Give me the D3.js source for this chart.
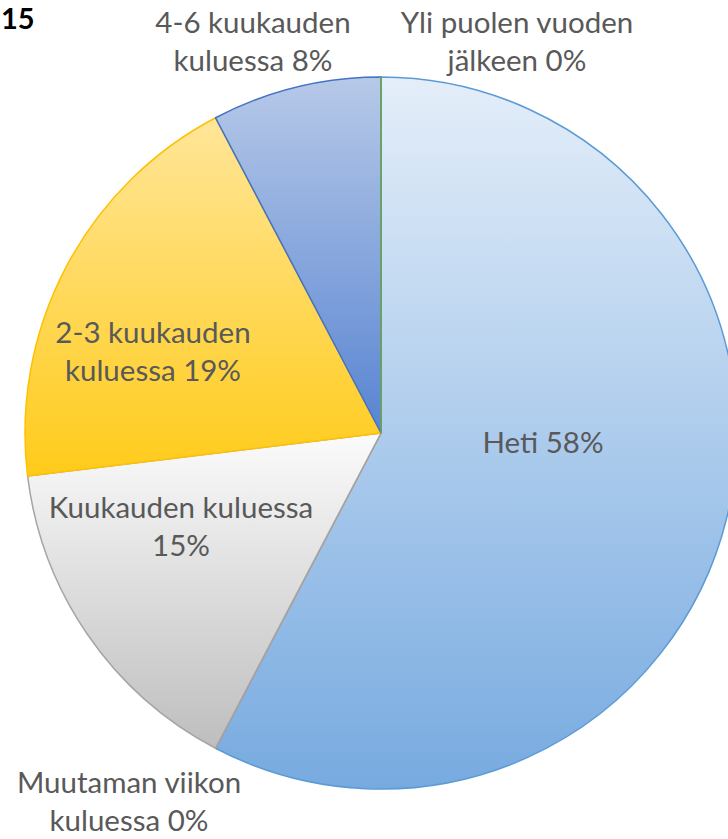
<!DOCTYPE html>
<html>
<head>
<meta charset="utf-8">
<script src="https://cdn.jsdelivr.net/npm/d3@7"></script>
<style>
  body { margin: 0; background: #fff; overflow: hidden; }
  svg { display: block; }
</style>
</head>
<body>
<svg></svg>
<script>
// Answer categories and counts (percent labels shown in the chart)
var categories = ["Heti", "Muutaman viikon kuluessa", "Kuukauden kuluessa",
                  "2-3 kuukauden kuluessa", "4-6 kuukauden kuluessa", "Yli puolen vuoden jälkeen"];
var counts = [15, 0, 4, 5, 2, 0];
var labelLines = [
  ["Heti 58%"],
  ["Muutaman viikon", "kuluessa 0%"],
  ["Kuukauden kuluessa", "15%"],
  ["2-3 kuukauden", "kuluessa 19%"],
  ["4-6 kuukauden", "kuluessa 8%"],
  ["Yli puolen vuoden", "jälkeen 0%"]
];

var width = 728, height = 839;
var cx = 381, cy = 433, radius = 356;

// slice colours: [top of gradient, bottom of gradient, border]
var colors = [
  ["#e4eef9", "#77aae0", "#5b9bd5"],
  ["#f8cbad", "#ed7d31", "#ed7d31"],
  ["#fbfbfb", "#bebebe", "#a5a5a5"],
  ["#ffe699", "#ffcb1a", "#ffc000"],
  ["#b7c9e8", "#5884d2", "#4472c4"],
  ["#a9d18e", "#70ad47", "#70ad47"]
];

// label anchor offsets from the pie centre (first baseline)
var labelOffsets = [
  [162, 20], [-252, 360], [-200, 85], [-228, -90], [-128, -400], [136, -400]
];

var svg = d3.select("svg")
  .attr("width", width)
  .attr("height", height);

var defs = svg.append("defs");
colors.forEach(function(c, i) {
  var g = defs.append("linearGradient")
    .attr("id", "grad" + i)
    .attr("x1", 0).attr("y1", 0).attr("x2", 0).attr("y2", 1);
  g.append("stop").attr("offset", "0%").attr("stop-color", c[0]);
  g.append("stop").attr("offset", "100%").attr("stop-color", c[1]);
});

var pie = d3.pie().sort(null).value(function(d) { return d; });
var arc = d3.arc().innerRadius(0).outerRadius(radius);
var arcs = pie(counts);

var g = svg.append("g").attr("transform", "translate(" + cx + "," + cy + ")");

g.selectAll("path.slice")
  .data(arcs)
  .enter()
  .append("path")
    .attr("class", "slice")
    .attr("d", function(d) {
      if (d.endAngle - d.startAngle === 0) {
        // zero slice: just the radial line
        var a = d.startAngle;
        return "M0,0L" + (radius * Math.sin(a)) + "," + (-radius * Math.cos(a));
      }
      return arc(d);
    })
    .attr("fill", function(d, i) { return d.value > 0 ? "url(#grad" + i + ")" : "none"; })
    .attr("stroke", function(d, i) { return colors[i][2]; })
    .attr("stroke-width", 1.5)
    .attr("stroke-linejoin", "round");

// data labels
var labels = svg.append("g")
  .attr("font-family", "Lato, 'Open Sans', sans-serif")
  .attr("font-size", 29.5)
  .attr("fill", "#595959")
  .attr("text-anchor", "middle");

labelLines.forEach(function(lines, i) {
  var t = labels.append("text")
    .attr("x", cx + labelOffsets[i][0])
    .attr("y", cy + labelOffsets[i][1]);
  lines.forEach(function(line, j) {
    t.append("tspan")
      .attr("x", cx + labelOffsets[i][0])
      .attr("dy", j === 0 ? 0 : 38)
      .text(line);
  });
});

// partially visible title
svg.append("text")
  .attr("x", 1)
  .attr("y", 29)
  .attr("font-family", "Lato, 'Open Sans', sans-serif")
  .attr("font-weight", "bold")
  .attr("font-size", 29)
  .attr("fill", "#000")
  .text("15");
</script>
</body>
</html>
